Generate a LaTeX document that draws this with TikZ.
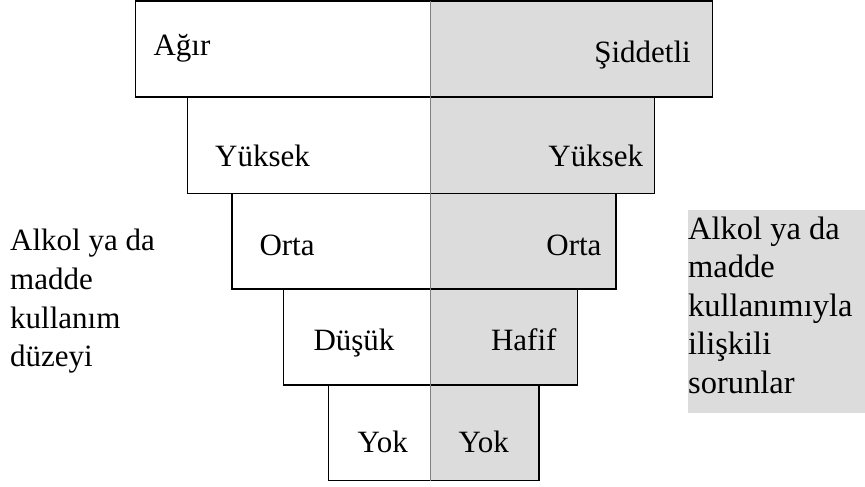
\documentclass[tikz,border=0pt]{standalone}
\usepackage{fontspec}
\setmainfont{Liberation Serif}
\definecolor{boxgray}{HTML}{DCDCDC}
\definecolor{divgray}{HTML}{808080}
\tikzset{
  cell/.style={draw=black, line width=1.1pt},
  graycell/.style={cell, fill=boxgray},
  lbl/.style={inner sep=0pt, font=\fontsize{31}{38.5}\selectfont},
  legendlbl/.style={inner sep=0pt, font=\fontsize{32.5}{38.5}\selectfont},
}
\begin{document}
\begin{tikzpicture}[x=1pt,y=-1pt]
\useasboundingbox (0,0) rectangle (865,487);
% legend box
\fill[boxgray] (687.7,210) rectangle (865,412.7);
% rows: left x, right x, top y, bottom y
\foreach \l/\r/\t/\b in {135.7/712.7/1/97, 187.3/654.3/97/193.3, 232/616/193.3/289, 283.5/577.5/289/385, 328.3/539/385/480.7}{
  \draw[graycell] (430.7,\t) rectangle (\r,\b);
  \draw[cell] (\l,\t) rectangle (430.7,\b);
}
\draw[divgray, line width=1.1pt] (430.7,1) -- (430.7,480.7);
% left labels
\node[lbl, anchor=base west] (l1) at (153.3,56) {Ağır};
\node[lbl, anchor=base west] (l2) at (215,166) {Yüksek};
\node[lbl, anchor=base west] (l3) at (259.3,255) {Orta};
\node[lbl, anchor=base west] (l4) at (313.3,350.7) {Düşük};
\node[lbl, anchor=base west] (l5) at (357.3,452.7) {Yok};
% right labels
\node[lbl, anchor=base east] (r1) at (691,62.3) {Şiddetli};
\node[lbl, anchor=base east] (r2) at (643.3,166) {Yüksek};
\node[lbl, anchor=base east] (r3) at (601.7,255) {Orta};
\node[lbl, anchor=base east] (r4) at (556.7,350.7) {Hafif};
\node[lbl, anchor=base west] (r5) at (458.3,452.7) {Yok};
% side text left
\node[lbl, anchor=base west] (a1) at (10,250.7) {Alkol ya da};
\node[lbl, anchor=base west] (a2) at (10,289.4) {madde};
\node[lbl, anchor=base west] (a3) at (10,328) {kullanım};
\node[lbl, anchor=base west] (a4) at (10,366.7) {düzeyi};
% side text right
\node[legendlbl, anchor=base west] (b1) at (688,239) {Alkol ya da};
\node[legendlbl, anchor=base west] (b2) at (688,277.5) {madde};
\node[legendlbl, anchor=base west] (b3) at (688,316) {kullanımıyla};
\node[legendlbl, anchor=base west] (b4) at (688,354.5) {ilişkili};
\node[legendlbl, anchor=base west] (b5) at (688,393) {sorunlar};
\end{tikzpicture}
\end{document}
